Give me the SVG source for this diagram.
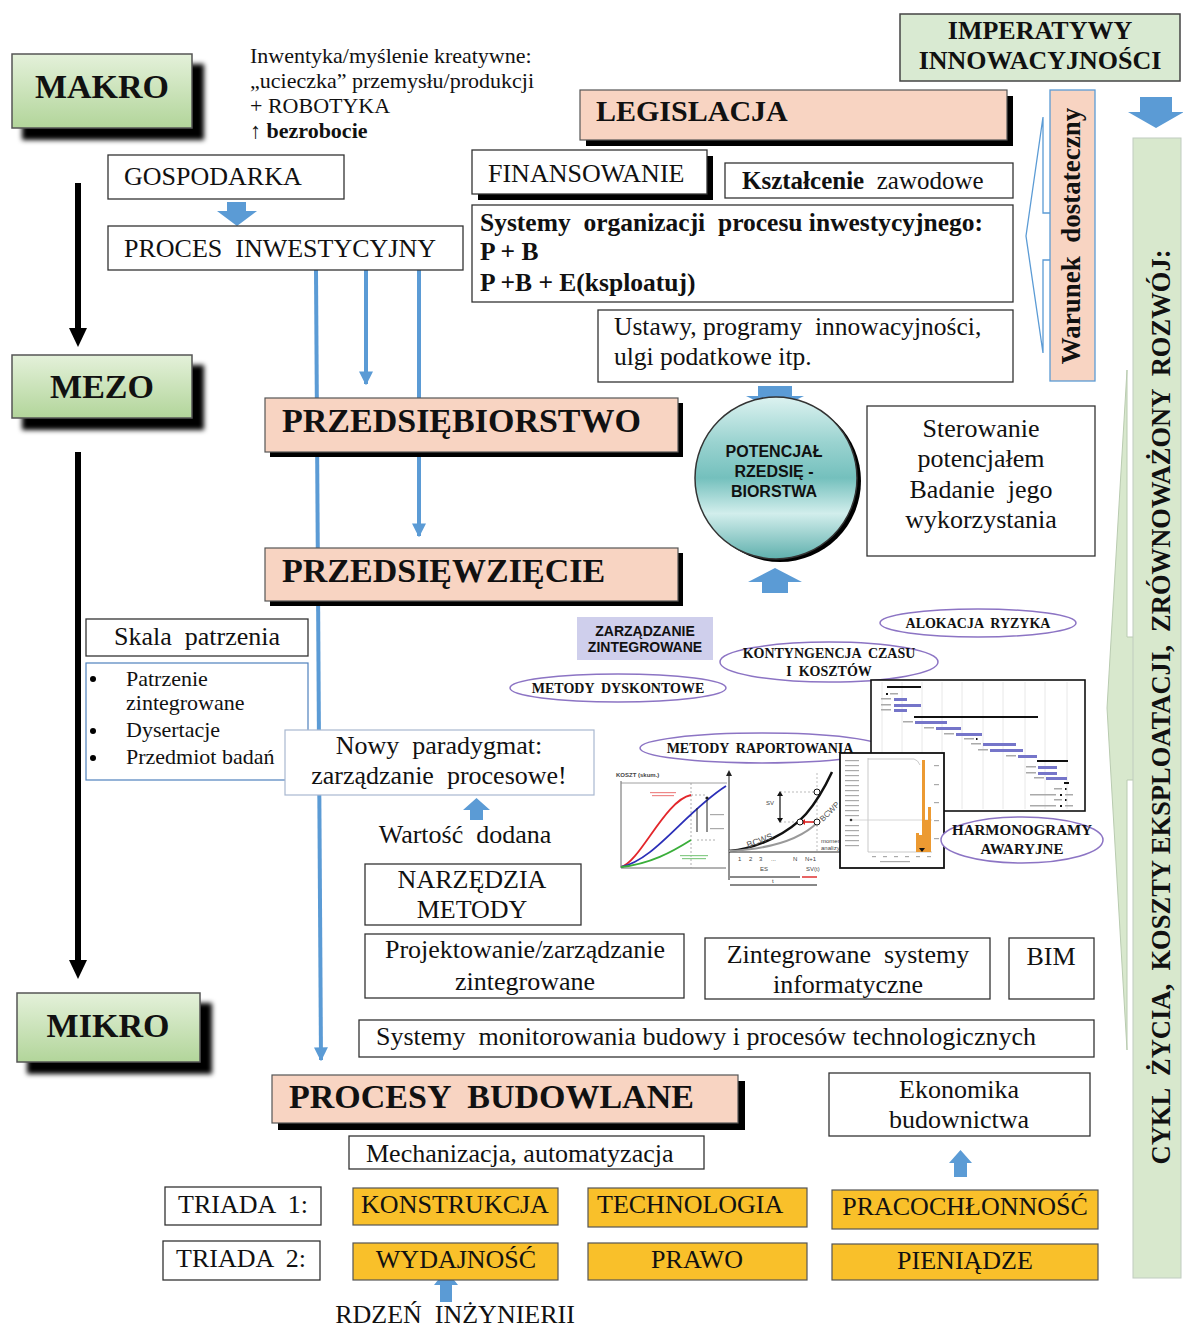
<svg xmlns="http://www.w3.org/2000/svg" width="1183" height="1327" viewBox="0 0 1183 1327" xml:space="preserve">
<defs>
<style>
text{white-space:pre}
.sf{font-family:"Liberation Serif","DejaVu Serif",serif;fill:#111}
.ss{font-family:"Liberation Sans","DejaVu Sans",sans-serif;fill:#111}
.b{font-weight:bold}
.bx{fill:#fff;stroke:#333;stroke-width:1.3}
.sal{fill:#f8d4c2;stroke:#555;stroke-width:1.2}
.org{fill:#f9c02a;stroke:#555;stroke-width:1.2}
.ell{fill:#fff;stroke:#8c74c4;stroke-width:1.5}
.blu{fill:#5b9bd5}
.bl{stroke:#5b9bd5;stroke-width:4;fill:none}
.gb{fill:#7575c9}
.kb{fill:#111}
.lab{fill:#aaa}
.grid{stroke:#e2e2e2;stroke-width:0.8}
.t6{font-family:"Liberation Sans",sans-serif;font-size:6px;fill:#444}
</style>
<linearGradient id="gg" x1="0" y1="0" x2="0" y2="1"><stop offset="0" stop-color="#e4f1da"/><stop offset="1" stop-color="#b2d59a"/></linearGradient>
<linearGradient id="cg" x1="0" y1="0" x2="0" y2="1"><stop offset="0" stop-color="#dcf2f0"/><stop offset="0.28" stop-color="#9ad3d0"/><stop offset="0.5" stop-color="#74c0bd"/><stop offset="0.72" stop-color="#d2eeec"/><stop offset="1" stop-color="#5fb0ad"/></linearGradient>
<filter id="blur" x="-20%" y="-30%" width="140%" height="160%"><feGaussianBlur stdDeviation="2.5"/></filter>
<marker id="ab" viewBox="0 0 10 10" refX="9" refY="5" markerWidth="3.5" markerHeight="3.5" orient="auto"><path d="M0,0 L10,5 L0,10 z" fill="#5b9bd5"/></marker>
</defs>
<rect width="1183" height="1327" fill="#fff"/>

<g id="connectors">
<line class="bl" x1="316" y1="270" x2="321" y2="1060" marker-end="url(#ab)"/>
<line class="bl" x1="366" y1="270" x2="366" y2="384" marker-end="url(#ab)"/>
<line class="bl" x1="419" y1="270" x2="419" y2="536" marker-end="url(#ab)"/>
<line x1="78" y1="183" x2="78" y2="330" stroke="#000" stroke-width="6"/>
<polygon points="69,328 87,328 78,347" fill="#000"/>
<line x1="78" y1="452" x2="78" y2="962" stroke="#000" stroke-width="6"/>
<polygon points="69,960 87,960 78,979" fill="#000"/>
<polygon class="blu" points="227,202 246,202 246,211 257,211 237,226 217,211 227,211"/>
<polygon class="blu" points="1140,97 1172,97 1172,112 1184,112 1156,128 1128,112 1140,112"/>
<polygon class="blu" points="758,386 792,386 792,396 804,396 775,410 746,396 758,396"/>
<polygon class="blu" points="775,568 802,582 788,582 788,593 762,593 762,582 748,582"/>
<polygon class="blu" points="476.5,798 490,810 483,810 483,820 470,820 470,810 463,810"/>
<polygon class="blu" points="960.5,1150 972,1163 967,1163 967,1177 954,1177 954,1163 949,1163"/>
<polygon class="blu" points="446,1270 458,1285 452,1285 452,1302 440,1302 440,1285 434,1285"/>
</g>

<g id="makro">
<rect x="22" y="64" width="182" height="76" fill="#000" filter="url(#blur)"/>
<rect x="12" y="54" width="180" height="74" fill="url(#gg)" stroke="#555" stroke-width="1.5"/>
<text x="102" y="98" text-anchor="middle" class="sf b" font-size="34">MAKRO</text>
</g>
<g id="mezo">
<rect x="22" y="365" width="182" height="65" fill="#000" filter="url(#blur)"/>
<rect x="12" y="355" width="180" height="63" fill="url(#gg)" stroke="#555" stroke-width="1.5"/>
<text x="102" y="398" text-anchor="middle" class="sf b" font-size="34">MEZO</text>
</g>
<g id="mikro">
<rect x="27" y="1003" width="185" height="71" fill="#000" filter="url(#blur)"/>
<rect x="17" y="993" width="183" height="69" fill="url(#gg)" stroke="#555" stroke-width="1.5"/>
<text x="108" y="1037" text-anchor="middle" class="sf b" font-size="34">MIKRO</text>
</g>

<g id="inwentyka">
<text x="250" y="63" class="sf" font-size="22">Inwentyka/myślenie kreatywne:</text>
<text x="250" y="88" class="sf" font-size="22">„ucieczka” przemysłu/produkcji</text>
<text x="250" y="113" class="sf" font-size="22">+ ROBOTYKA</text>
<text x="250" y="138" class="sf" font-size="22">↑ <tspan class="b">bezrobocie</tspan></text>
</g>

<g id="gospodarka">
<rect class="bx" x="108" y="155" width="236" height="44"/>
<text x="124" y="185" class="sf" font-size="26">GOSPODARKA</text>
</g>
<g id="proces-inwestycyjny">
<rect class="bx" x="108" y="226" width="355" height="44"/>
<text x="124" y="257" class="sf" font-size="26">PROCES  INWESTYCYJNY</text>
</g>

<g id="imperatywy">
<rect x="900" y="14" width="280" height="67" fill="#d9ead2" stroke="#444" stroke-width="1.5"/>
<text x="1040" y="39" text-anchor="middle" class="sf b" font-size="26">IMPERATYWY</text>
<text x="1040" y="69" text-anchor="middle" class="sf b" font-size="26">INNOWACYJNOŚCI</text>
</g>

<g id="legislacja">
<rect x="586" y="96" width="427" height="50" fill="#000"/>
<rect class="sal" x="580" y="90" width="427" height="50"/>
<text x="596" y="121" class="sf b" font-size="30">LEGISLACJA</text>
</g>

<g id="finansowanie">
<rect x="478" y="156" width="235" height="44" fill="#000"/>
<rect class="bx" x="472" y="150" width="235" height="44"/>
<text x="488" y="182" class="sf" font-size="26">FINANSOWANIE</text>
</g>
<g id="ksztalcenie">
<rect class="bx" x="725" y="163" width="288" height="35"/>
<text x="742" y="189" class="sf" font-size="25"><tspan class="b">Kształcenie</tspan>  zawodowe</text>
</g>
<g id="systemy-organizacji">
<rect class="bx" x="472" y="205" width="541" height="97"/>
<text x="480" y="231" class="sf b" font-size="25.5">Systemy  organizacji  procesu inwestycyjnego:</text>
<text x="480" y="260" class="sf b" font-size="25.5">P + B</text>
<text x="480" y="291" class="sf b" font-size="25.5">P +B + E(ksploatuj)</text>
</g>
<g id="ustawy">
<rect class="bx" x="598" y="310" width="415" height="72"/>
<text x="614" y="335" class="sf" font-size="25.5">Ustawy, programy  innowacyjności,</text>
<text x="614" y="365" class="sf" font-size="25.5">ulgi podatkowe itp.</text>
</g>

<g id="warunek">
<path d="M1050,213 L1043,213 L1043,117 L1026,236 L1043,353 L1043,260 L1050,260" fill="#fff" stroke="#5b9bd5" stroke-width="1.3"/>
<rect x="1050" y="90" width="45" height="291" fill="#f8d4c2" stroke="#5b9bd5" stroke-width="1.3"/>
<text transform="translate(1080,236) rotate(-90)" text-anchor="middle" class="sf b" font-size="27">Warunek  dostateczny</text>
</g>

<g id="cykl-zycia">
<path d="M1134,637 L1127,637 L1127,370 L1107,708 L1127,1050 L1127,780 L1134,780" fill="#d8e8cd" stroke="#b9cbb0" stroke-width="1"/>
<rect x="1133" y="138" width="48" height="1140" fill="#d8e8cd" stroke="#c0ccc0" stroke-width="1"/>
<text transform="translate(1170,707) rotate(-90)" text-anchor="middle" class="sf b" font-size="28" textLength="915" lengthAdjust="spacingAndGlyphs">CYKL  ŻYCIA,  KOSZTY EKSPLOATACJI,  ZRÓWNOWAŻONY  ROZWÓJ:</text>
</g>

<g id="przedsiebiorstwo">
<rect x="270" y="403" width="413" height="54" fill="#000"/>
<rect class="sal" x="265" y="398" width="413" height="54"/>
<text x="282" y="432" class="sf b" font-size="34">PRZEDSIĘBIORSTWO</text>
</g>
<g id="przedsiewziecie">
<rect x="270" y="553" width="413" height="53" fill="#000"/>
<rect class="sal" x="265" y="548" width="413" height="53"/>
<text x="282" y="582" class="sf b" font-size="34">PRZEDSIĘWZIĘCIE</text>
</g>

<g id="potencjal">
<circle cx="780" cy="481" r="81" fill="#000"/>
<circle cx="776" cy="478" r="81" fill="url(#cg)" stroke="#333" stroke-width="1.5"/>
<text x="774" y="457" text-anchor="middle" class="ss b" font-size="16">POTENCJAŁ</text>
<text x="774" y="477" text-anchor="middle" class="ss b" font-size="16">RZEDSIĘ -</text>
<text x="774" y="497" text-anchor="middle" class="ss b" font-size="16">BIORSTWA</text>
</g>
<g id="sterowanie">
<rect class="bx" x="867" y="406" width="228" height="150"/>
<text x="981" y="437" text-anchor="middle" class="sf" font-size="26">Sterowanie</text>
<text x="981" y="467" text-anchor="middle" class="sf" font-size="26">potencjałem</text>
<text x="981" y="498" text-anchor="middle" class="sf" font-size="26">Badanie  jego</text>
<text x="981" y="528" text-anchor="middle" class="sf" font-size="26">wykorzystania</text>
</g>

<g id="skala-patrzenia">
<rect class="bx" x="86" y="619" width="222" height="37"/>
<text x="197" y="645" text-anchor="middle" class="sf" font-size="26">Skala  patrzenia</text>
</g>
<g id="lista-skala">
<rect x="86" y="663" width="222" height="117" fill="#fff" stroke="#4f81bd" stroke-width="1.2"/>
<circle cx="93" cy="679" r="3" fill="#000"/>
<circle cx="93" cy="731" r="3" fill="#000"/>
<circle cx="93" cy="758" r="3" fill="#000"/>
<text x="126" y="686" class="sf" font-size="22">Patrzenie</text>
<text x="126" y="710" class="sf" font-size="22">zintegrowane</text>
<text x="126" y="737" class="sf" font-size="22">Dysertacje</text>
<text x="126" y="764" class="sf" font-size="22">Przedmiot badań</text>
</g>

<g id="nowy-paradygmat">
<rect x="285" y="730" width="309" height="65" fill="#fff" stroke="#a9b8d0" stroke-width="1.2"/>
<text x="439" y="754" text-anchor="middle" class="sf" font-size="26">Nowy  paradygmat:</text>
<text x="439" y="784" text-anchor="middle" class="sf" font-size="26">zarządzanie  procesowe!</text>
</g>
<g id="wartosc-dodana">
<text x="465" y="843" text-anchor="middle" class="sf" font-size="26">Wartość  dodana</text>
</g>
<g id="narzedzia">
<rect class="bx" x="365" y="864" width="216" height="61"/>
<text x="472" y="888" text-anchor="middle" class="sf" font-size="26">NARZĘDZIA</text>
<text x="472" y="918" text-anchor="middle" class="sf" font-size="26">METODY</text>
</g>
<g id="projektowanie">
<rect class="bx" x="365" y="934" width="319" height="64"/>
<text x="525" y="958" text-anchor="middle" class="sf" font-size="26">Projektowanie/zarządzanie</text>
<text x="525" y="990" text-anchor="middle" class="sf" font-size="26">zintegrowane</text>
</g>
<g id="zintegrowane-systemy">
<rect class="bx" x="705" y="938" width="285" height="61"/>
<text x="848" y="963" text-anchor="middle" class="sf" font-size="26">Zintegrowane  systemy</text>
<text x="848" y="993" text-anchor="middle" class="sf" font-size="26">informatyczne</text>
</g>
<g id="bim">
<rect class="bx" x="1009" y="938" width="85" height="61"/>
<text x="1051" y="965" text-anchor="middle" class="sf" font-size="26">BIM</text>
</g>
<g id="systemy-monitorowania">
<rect class="bx" x="359" y="1020" width="735" height="37"/>
<text x="376" y="1045" class="sf" font-size="26">Systemy  monitorowania budowy i procesów technologicznych</text>
</g>

<g id="procesy-budowlane">
<rect x="278" y="1081" width="467" height="49" fill="#000"/>
<rect class="sal" x="272" y="1075" width="466" height="48"/>
<text x="289" y="1108" class="sf b" font-size="34">PROCESY  BUDOWLANE</text>
</g>
<g id="ekonomika">
<rect class="bx" x="829" y="1073" width="261" height="63"/>
<text x="959" y="1098" text-anchor="middle" class="sf" font-size="26">Ekonomika</text>
<text x="959" y="1128" text-anchor="middle" class="sf" font-size="26">budownictwa</text>
</g>
<g id="mechanizacja">
<rect class="bx" x="349" y="1136" width="355" height="33"/>
<text x="366" y="1162" class="sf" font-size="26">Mechanizacja, automatyzacja</text>
</g>

<g id="triada1">
<rect class="bx" x="165" y="1187" width="156" height="38"/>
<text x="243" y="1213" text-anchor="middle" class="sf" font-size="26">TRIADA  1:</text>
</g>
<g id="triada2">
<rect class="bx" x="163" y="1241" width="157" height="39"/>
<text x="241" y="1267" text-anchor="middle" class="sf" font-size="26">TRIADA  2:</text>
</g>
<g id="konstrukcja">
<rect class="org" x="353" y="1188" width="205" height="37"/>
<text x="455" y="1213" text-anchor="middle" class="sf" font-size="26">KONSTRUKCJA</text>
</g>
<g id="technologia">
<rect class="org" x="588" y="1188" width="219" height="39"/>
<text x="597" y="1213" class="sf" font-size="26">TECHNOLOGIA</text>
</g>
<g id="pracochlonnosc">
<rect class="org" x="832" y="1190" width="266" height="39"/>
<text x="965" y="1215" text-anchor="middle" class="sf" font-size="26">PRACOCHŁONNOŚĆ</text>
</g>
<g id="wydajnosc">
<rect class="org" x="353" y="1243" width="205" height="37"/>
<text x="456" y="1268" text-anchor="middle" class="sf" font-size="26">WYDAJNOŚĆ</text>
</g>
<g id="prawo">
<rect class="org" x="588" y="1243" width="219" height="37"/>
<text x="697" y="1268" text-anchor="middle" class="sf" font-size="26">PRAWO</text>
</g>
<g id="pieniadze">
<rect class="org" x="832" y="1244" width="266" height="36"/>
<text x="965" y="1269" text-anchor="middle" class="sf" font-size="26">PIENIĄDZE</text>
</g>
<g id="rdzen">
<text x="455" y="1323" text-anchor="middle" class="sf" font-size="26">RDZEŃ  INŻYNIERII</text>
</g>

<g id="zarzadzanie-zintegrowane">
<rect x="577" y="617" width="136" height="43" fill="#cfcfec"/>
<text x="645" y="636" text-anchor="middle" class="ss b" font-size="14">ZARZĄDZANIE</text>
<text x="645" y="652" text-anchor="middle" class="ss b" font-size="14">ZINTEGROWANE</text>
</g>
<g id="alokacja-ryzyka">
<ellipse class="ell" cx="978" cy="623" rx="98" ry="14"/>
<text x="978" y="628" text-anchor="middle" class="sf b" font-size="14">ALOKACJA  RYZYKA</text>
</g>
<g id="kontyngencja">
<ellipse class="ell" cx="829" cy="662" rx="109" ry="20"/>
<text x="829" y="658" text-anchor="middle" class="sf b" font-size="14">KONTYNGENCJA  CZASU</text>
<text x="829" y="676" text-anchor="middle" class="sf b" font-size="14">I  KOSZTÓW</text>
</g>
<g id="metody-dyskontowe">
<ellipse class="ell" cx="618" cy="688" rx="108" ry="14"/>
<text x="618" y="693" text-anchor="middle" class="sf b" font-size="14">METODY  DYSKONTOWE</text>
</g>
<g id="metody-raportowania">
<ellipse class="ell" cx="762" cy="748" rx="122" ry="15"/>
<text x="760" y="753" text-anchor="middle" class="sf b" font-size="14">METODY  RAPORTOWANIA</text>
</g>

<g id="harmonogram-gantt">
<rect x="871" y="680" width="214" height="131" fill="#fff" stroke="#111" stroke-width="1.6"/>
<g class="grid">
<line x1="882" y1="682" x2="882" y2="809"/><line x1="902" y1="682" x2="902" y2="809"/><line x1="922" y1="682" x2="922" y2="809"/><line x1="942" y1="682" x2="942" y2="809"/><line x1="962" y1="682" x2="962" y2="809"/><line x1="983" y1="682" x2="983" y2="809"/><line x1="1003" y1="682" x2="1003" y2="809"/><line x1="1025" y1="682" x2="1025" y2="809"/><line x1="1045" y1="682" x2="1045" y2="809"/><line x1="1067" y1="682" x2="1067" y2="809"/>
</g>
<rect class="kb" x="887" y="686" width="34" height="2"/>
<rect class="kb" x="886" y="693" width="2" height="2"/><rect class="lab" x="890" y="693" width="8" height="1.5"/>
<rect class="lab" x="881" y="698" width="10" height="1.5"/><rect class="gb" x="894" y="698" width="13" height="3"/>
<rect class="lab" x="881" y="704" width="10" height="1.5"/><rect class="gb" x="894" y="704" width="27" height="3"/>
<rect class="lab" x="881" y="709" width="10" height="1.5"/><rect class="gb" x="894" y="709" width="13" height="3"/>
<rect class="kb" x="914" y="716" width="124" height="2"/>
<rect class="lab" x="903" y="721" width="10" height="1.5"/><rect class="gb" x="915" y="721" width="32" height="3"/>
<rect class="lab" x="924" y="727" width="10" height="1.5"/><rect class="gb" x="936" y="727" width="25" height="3"/>
<rect class="lab" x="944" y="733" width="10" height="1.5"/><rect class="gb" x="956" y="733" width="26" height="3"/>
<rect class="lab" x="964" y="738" width="10" height="1.5"/><rect class="kb" x="976" y="738" width="1.5" height="2"/>
<rect class="lab" x="971" y="743" width="10" height="1.5"/><rect class="gb" x="983" y="743" width="33" height="3"/>
<rect class="lab" x="978" y="749" width="10" height="1.5"/><rect class="gb" x="990" y="749" width="33" height="3"/>
<rect class="lab" x="1006" y="755" width="10" height="1.5"/><rect class="gb" x="1018" y="755" width="19" height="3"/>
<rect class="kb" x="1037" y="760" width="31" height="2"/>
<rect class="lab" x="1026" y="766" width="10" height="1.5"/><rect class="gb" x="1038" y="766" width="19" height="3"/>
<rect class="lab" x="1026" y="772" width="10" height="1.5"/><rect class="gb" x="1038" y="772" width="19" height="3"/>
<rect class="lab" x="1034" y="777" width="10" height="1.5"/><rect class="gb" x="1046" y="777" width="21" height="3"/>
<rect class="kb" x="1064" y="782" width="5" height="2"/>
<rect class="lab" x="1054" y="788" width="8" height="1.5"/><rect class="kb" x="1065" y="788" width="1.5" height="2"/>
<rect class="lab" x="1030" y="794" width="26" height="1.5"/><rect class="kb" x="1060" y="794" width="2" height="2"/><rect class="lab" x="1065" y="794" width="8" height="1.5"/>
<rect class="lab" x="1054" y="799" width="8" height="1.5"/><rect class="kb" x="1065" y="799" width="1.5" height="2"/>
<rect class="lab" x="1030" y="805" width="26" height="1.5"/><rect class="kb" x="1060" y="805" width="2" height="2"/><rect class="lab" x="1065" y="805" width="8" height="1.5"/>
</g>

<g id="wykres-koszty">
<text x="616" y="777" class="t6 b">KOSZT (skum.)</text>
<line x1="621" y1="781" x2="621" y2="868" stroke="#666" stroke-width="1"/>
<line x1="621" y1="868" x2="726" y2="868" stroke="#666" stroke-width="1"/>
<line x1="621" y1="783" x2="727" y2="783" stroke="#888" stroke-width="0.8"/>
<line x1="691" y1="783" x2="691" y2="868" stroke="#999" stroke-width="0.8" stroke-dasharray="2,2"/>
<line x1="691" y1="795" x2="707" y2="795" stroke="#999" stroke-width="0.8" stroke-dasharray="2,2"/>
<line x1="697" y1="840" x2="715" y2="840" stroke="#999" stroke-width="0.8" stroke-dasharray="2,2"/>
<path d="M621,867 C640,862 665,800 691,795" fill="none" stroke="#e3262b" stroke-width="1.8"/>
<path d="M621,867 C655,860 685,812 726,786" fill="none" stroke="#2b2fb8" stroke-width="1.8"/>
<path d="M621,867 C650,864 672,852 691,840" fill="none" stroke="#3aae3a" stroke-width="1.8"/>
<circle cx="707" cy="798" r="1.6" fill="#222"/>
<line x1="697" y1="808" x2="697" y2="832" stroke="#222" stroke-width="1"/>
<line x1="707" y1="800" x2="707" y2="832" stroke="#222" stroke-width="1"/>
<rect x="650" y="792" width="26" height="1.2" fill="#e88"/><rect x="652" y="795" width="22" height="1.2" fill="#e88"/>
<rect x="680" y="855" width="28" height="1.2" fill="#8c8"/><rect x="682" y="858" width="24" height="1.2" fill="#8c8"/>
<rect x="710" y="814" width="14" height="1.2" fill="#aaa"/><rect x="710" y="828" width="14" height="1.2" fill="#aaa"/>
</g>

<g id="wykres-bcws">
<line x1="729" y1="880" x2="729" y2="773" stroke="#222" stroke-width="1"/>
<polygon points="726,776 732,776 729,770" fill="#222"/>
<line x1="729" y1="852" x2="860" y2="852" stroke="#222" stroke-width="1"/>
<line x1="817" y1="773" x2="817" y2="852" stroke="#aaa" stroke-width="0.8" stroke-dasharray="2,2"/>
<line x1="780" y1="792" x2="817" y2="792" stroke="#aaa" stroke-width="0.8" stroke-dasharray="2,2"/>
<line x1="780" y1="822" x2="800" y2="822" stroke="#aaa" stroke-width="0.8" stroke-dasharray="2,2"/>
<path d="M729,851 C760,848 790,832 806,814 C818,800 825,787 832,772" fill="none" stroke="#111" stroke-width="2.5"/>
<path d="M729,851 C770,849 800,840 818,822" fill="none" stroke="#999" stroke-width="2"/>
<line x1="780" y1="795" x2="780" y2="819" stroke="#111" stroke-width="1.2"/>
<polygon points="777,796 783,796 780,791" fill="#111"/><polygon points="777,818 783,818 780,823" fill="#111"/>
<line x1="803" y1="822" x2="814" y2="822" stroke="#d22" stroke-width="1.6"/>
<polygon points="805,819 805,825 801,822" fill="#d22"/>
<circle cx="800" cy="822" r="3" fill="#fff" stroke="#111" stroke-width="1"/>
<circle cx="817" cy="822" r="3" fill="#fff" stroke="#111" stroke-width="1"/>
<circle cx="817" cy="792" r="3" fill="#fff" stroke="#111" stroke-width="1"/>
<text x="766" y="805" class="t6">SV</text>
<text transform="translate(748,848) rotate(-20)" font-family="Liberation Sans,sans-serif" font-size="9" fill="#555">BCWS</text>
<text transform="translate(823,822) rotate(-45)" font-family="Liberation Sans,sans-serif" font-size="8" fill="#555">BCWP</text>
<text x="821" y="843" class="t6" fill="#777">moment</text>
<text x="821" y="850" class="t6" fill="#777">analizy</text>
<text x="738" y="861" class="t6">1</text><text x="749" y="861" class="t6">2</text><text x="759" y="861" class="t6">3</text><text x="771" y="861" class="t6">...</text><text x="793" y="861" class="t6">N</text><text x="805" y="861" class="t6">N+1</text>
<text x="760" y="871" class="t6">ES</text>
<text x="806" y="871" class="t6">SV(t)</text>
<line x1="730" y1="877" x2="800" y2="877" stroke="#111" stroke-width="1"/>
<line x1="802" y1="877" x2="817" y2="877" stroke="#d22" stroke-width="1.4"/>
<line x1="730" y1="885" x2="817" y2="885" stroke="#111" stroke-width="1"/>
<text x="772" y="883" class="t6">t</text>
</g>

<g id="wykres-histogram">
<rect x="840" y="753" width="104" height="115" fill="#fff" stroke="#111" stroke-width="1.8"/>
<line x1="868" y1="758" x2="868" y2="852" stroke="#bbb" stroke-width="0.8"/>
<line x1="868" y1="852" x2="932" y2="852" stroke="#bbb" stroke-width="0.8"/>
<path d="M868,759 L914,759 Q918,760 920,765" fill="none" stroke="#bbb" stroke-width="0.8"/>
<line x1="850" y1="820" x2="932" y2="820" stroke="#ccc" stroke-width="0.8"/>
<circle cx="851" cy="820" r="1.3" fill="#333"/>
<g class="lab">
<rect x="845" y="760" width="14" height="1.2"/><rect x="845" y="765" width="14" height="1.2"/><rect x="845" y="770" width="14" height="1.2"/><rect x="845" y="775" width="14" height="1.2"/><rect x="845" y="780" width="14" height="1.2"/><rect x="845" y="785" width="14" height="1.2"/><rect x="845" y="790" width="14" height="1.2"/><rect x="845" y="795" width="14" height="1.2"/><rect x="845" y="800" width="14" height="1.2"/><rect x="845" y="805" width="14" height="1.2"/><rect x="845" y="810" width="14" height="1.2"/><rect x="845" y="815" width="14" height="1.2"/><rect x="845" y="825" width="14" height="1.2"/><rect x="845" y="830" width="14" height="1.2"/><rect x="845" y="835" width="14" height="1.2"/><rect x="845" y="840" width="14" height="1.2"/><rect x="845" y="845" width="14" height="1.2"/>
<rect x="872" y="856" width="4" height="1.2"/><rect x="883" y="856" width="4" height="1.2"/><rect x="894" y="856" width="4" height="1.2"/><rect x="905" y="856" width="4" height="1.2"/><rect x="916" y="856" width="4" height="1.2"/><rect x="927" y="856" width="4" height="1.2"/>
<rect x="880" y="861" width="30" height="1.2"/>
<rect x="934" y="765" width="5" height="1.2"/><rect x="934" y="784" width="5" height="1.2"/><rect x="934" y="802" width="5" height="1.2"/><rect x="934" y="820" width="5" height="1.2"/><rect x="934" y="838" width="5" height="1.2"/>
</g>
<rect x="916" y="833" width="3" height="19" fill="#ec9a32"/>
<rect x="919" y="835" width="3" height="17" fill="#ec9a32"/>
<rect x="922" y="760" width="3" height="92" fill="#ec9a32"/>
<rect x="925" y="820" width="3" height="32" fill="#ec9a32"/>
<rect x="928" y="807" width="3" height="45" fill="#ec9a32"/>
<polygon points="919,848 925,848 922,852" fill="#111"/>
</g>

<g id="harmonogramy-awaryjne">
<ellipse class="ell" cx="1022" cy="840" rx="81" ry="23"/>
<text x="1022" y="835" text-anchor="middle" class="sf b" font-size="15">HARMONOGRAMY</text>
<text x="1022" y="854" text-anchor="middle" class="sf b" font-size="15">AWARYJNE</text>
</g>
</svg>
